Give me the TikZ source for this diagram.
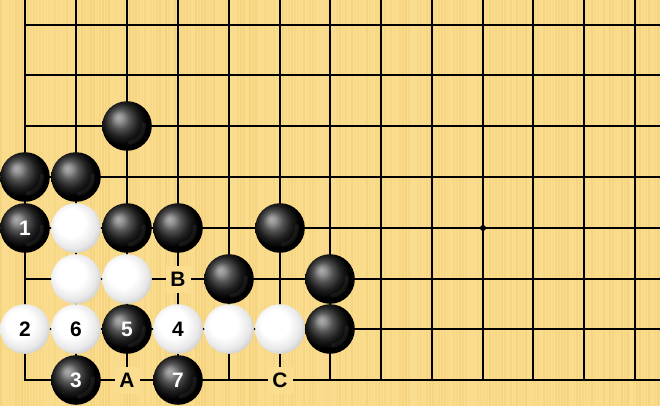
\documentclass[tikz,border=0pt]{standalone}
\usepackage{fontspec}
\setmainfont{Liberation Sans}
\definecolor{board}{RGB}{250,221,142}
\definecolor{stripe}{RGB}{238,196,100}
\pgfdeclareradialshading{blackstone}{\pgfpoint{-9bp}{9bp}}{color(0bp)=(black!32); color(4bp)=(black!42); color(10bp)=(black!68); color(17bp)=(black!88); color(24bp)=(black); color(50bp)=(black)}
\pgfdeclareradialshading{whitestone}{\pgfpoint{-7bp}{7bp}}{color(0bp)=(white); color(14bp)=(white); color(24bp)=(black!9); color(32bp)=(black!24); color(50bp)=(black!35)}
\tikzset{
  stonefont/.style={font=\bfseries\fontsize{21}{21}\selectfont},
  bst/.style={circle, inner sep=0pt, minimum size=49.6bp, shading=blackstone, text=white, stonefont,
    path picture={\draw[white, opacity=0.07, line width=4bp, line cap=round] (path picture bounding box.center) ++(-80:17bp) arc[start angle=-80, end angle=5, radius=17bp];}},
  wst/.style={circle, inner sep=0pt, minimum size=49.6bp, shading=whitestone, text=black, stonefont},
  lbl/.style={fill=board, inner sep=0pt, minimum width=25bp, minimum height=27bp, text=black, stonefont},
  gridline/.style={line width=1.6bp, black, line cap=rect},
}
\begin{document}
\begin{tikzpicture}[x=1bp,y=1bp]
\useasboundingbox (0,0) rectangle (660,406);
\clip (0,0) rectangle (660,406);
\fill[board] (0,0) rectangle (660,406);
\pgfmathsetseed{7}
\foreach \i in {0,...,219}{
  \pgfmathsetmacro\op{rnd*0.4}
  \fill[stripe, opacity=\op] (3*\i,0) rectangle ++(1.6,406);
}
% grid
\foreach \x in {25,76,127,178,229,280,330,381,432,483,533,584,635}{ \draw[gridline] (\x,26) -- (\x,410); }
\foreach \y in {26,77,127,178,229,280,331,381}{ \draw[gridline] (25,\y) -- (664,\y); }
\fill (483,178) circle (3);
% black stones
\node[bst] (b1) at (127,280) {};
\node[bst] (b2) at (25,229) {};
\node[bst] (b3) at (76,229) {};
\node[bst] (m1) at (25,178) {1};
\node[bst] (b4) at (127,178) {};
\node[bst] (b5) at (178,178) {};
\node[bst] (b6) at (280,178) {};
\node[bst] (b7) at (229,127) {};
\node[bst] (b8) at (330,127) {};
\node[bst] (m5) at (127,77) {5};
\node[bst] (b9) at (330,77) {};
\node[bst] (m3) at (76,26) {3};
\node[bst] (m7) at (178,26) {7};
% white stones
\node[wst] (w1) at (76,178) {};
\node[wst] (w2) at (76,127) {};
\node[wst] (w3) at (127,127) {};
\node[wst] (m2) at (25,77) {2};
\node[wst] (m6) at (76,77) {6};
\node[wst] (m4) at (178,77) {4};
\node[wst] (w4) at (229,77) {};
\node[wst] (w5) at (280,77) {};
% letters
\node[lbl] (lB) at (178,127) {B};
\node[lbl] (lA) at (127,26) {A};
\node[lbl] (lC) at (280,26) {C};
\end{tikzpicture}
\end{document}
